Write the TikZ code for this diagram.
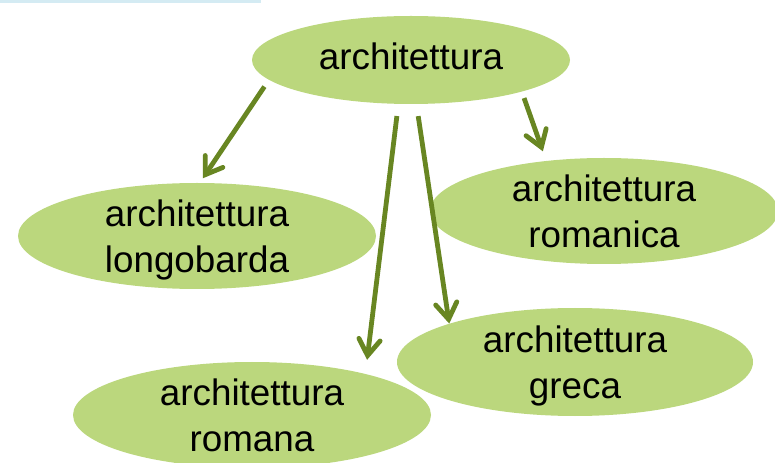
\documentclass[tikz,border=0pt]{standalone}
\usepackage{fontspec}
\setmainfont{Liberation Sans}
\usetikzlibrary{shapes.geometric,arrows.meta}

\definecolor{leafgreen}{RGB}{187,215,125}
\definecolor{olivearrow}{RGB}{104,134,34}
\definecolor{barblue}{RGB}{212,235,243}

\tikzset{
  bubble/.style={ellipse,fill=leafgreen,draw=none,inner sep=0pt,
    text height=54.2pt,text depth=0pt,
    align=center,font=\fontsize{27.6}{34.5}\selectfont},
  link/.style={draw=olivearrow,line width=3.6pt,
    -{Straight Barb[length=12pt,width=16pt,line cap=round]}}
}

\begin{document}
\begin{tikzpicture}[x=0.75pt,y=0.75pt,yscale=-1,xscale=1]
\useasboundingbox (0,0) rectangle (775,463);

%Shape: Rectangle
\fill [barblue] (0,0) rectangle (261,3);

%Shape: Ellipse
\node [bubble,minimum width=238.5pt,minimum height=66pt,text height=19.7pt,text depth=6pt] (arch) at (411,60) {architettura};
%Shape: Ellipse
\node [bubble,minimum width=268.5pt,minimum height=79.5pt] (longo) at (197,236) {architettura\\longobarda};
%Shape: Ellipse
\node [bubble,minimum width=261pt,minimum height=79.5pt] (romanica) at (604,211) {architettura\\romanica};
%Shape: Ellipse
\node [bubble,minimum width=267pt,minimum height=81pt] (greca) at (575,362) {architettura\\greca};
%Shape: Ellipse
\node [bubble,minimum width=268.5pt,minimum height=79.5pt] (romana) at (252,415) {architettura\\romana};

%Straight Lines
\draw [link,shorten <=6pt,shorten >=4pt] (arch.188) -- (longo.87);
%Straight Lines
\draw [link,shorten <=9pt,shorten >=10.5pt] (arch.254) -- (romana.20);
%Straight Lines
\draw [link,shorten <=9pt] (arch.277) -- (greca.163);
%Straight Lines
\draw [link,shorten <=5pt,shorten >=7.5pt] (arch.344) -- (romanica.139);

\end{tikzpicture}
\end{document}
